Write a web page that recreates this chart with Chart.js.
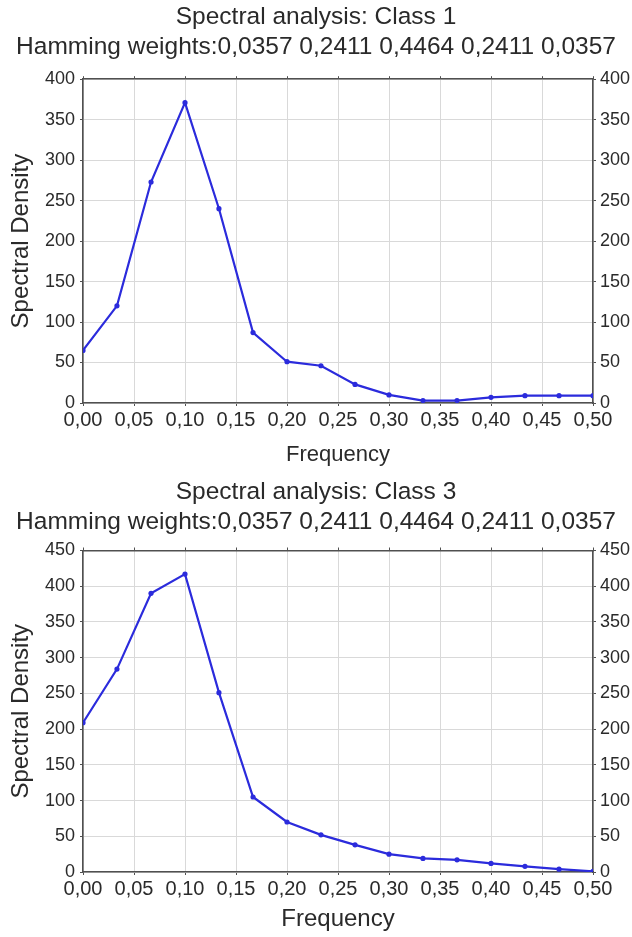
<!DOCTYPE html>
<html>
<head>
<meta charset="utf-8">
<script src="https://cdn.jsdelivr.net/npm/chart.js@4.4.1/dist/chart.umd.min.js"></script>
<style>
  html, body { margin: 0; padding: 0; background: #ffffff; }
  .wrap { position: relative; width: 632px; }
  canvas { display: block; }
</style>
</head>
<body>
<div class="wrap"><canvas id="c1" width="632" height="470"></canvas></div>
<div class="wrap"><canvas id="c2" width="632" height="467"></canvas></div>
<script>
// ---- data ----
const frequencies = [0.0000, 0.0333, 0.0667, 0.1000, 0.1333, 0.1667, 0.2000, 0.2333,
                     0.2667, 0.3000, 0.3333, 0.3667, 0.4000, 0.4333, 0.4667, 0.5000];
const densityClass1 = [65, 120, 273, 371, 240, 87, 51, 46, 23, 10, 3, 3, 7, 9, 9, 9];
const densityClass3 = [209, 284, 390, 417, 251, 105, 70, 52, 38, 25, 19, 17, 12, 8, 4, 1];
const xTickLabels = ['0,00','0,05','0,10','0,15','0,20','0,25','0,30','0,35','0,40','0,45','0,50'];
const yTicksClass1 = ['0','50','100','150','200','250','300','350','400'];
const yTicksClass3 = ['0','50','100','150','200','250','300','350','400','450'];
const titleClass1 = 'Spectral analysis: Class 1';
const titleClass3 = 'Spectral analysis: Class 3';
const subtitleText = 'Hamming weights:0,0357 0,2411 0,4464 0,2411 0,0357';
const xTitle = 'Frequency';
const yTitle = 'Spectral Density';

const FONT = "'Liberation Sans', Arial, sans-serif";
const TEXT = '#2a2a2a';
const LINE = '#2b2bdc';
const GRID = '#d9d9d9';
const AXIS = '#505050';

function makeChart(id, title, values, yLabels, opts) {
  const yMax = (yLabels.length - 1) * 50;
  const pts = frequencies.map((f, i) => ({x: f, y: values[i]}));
  const yTickCb = (v) => {
    const idx = Math.round(v / 50);
    return (Math.abs(v - idx * 50) < 1e-6) ? yLabels[idx] : '';
  };
  return new Chart(document.getElementById(id), {
    type: 'line',
    data: {
      datasets: [{
        data: pts,
        borderColor: LINE,
        backgroundColor: LINE,
        borderWidth: 2.2,
        pointRadius: 2.6,
        pointBorderWidth: 0,
        pointBackgroundColor: LINE,
        tension: 0,
        fill: false,
        xAxisID: 'x',
        yAxisID: 'y'
      }]
    },
    options: {
      responsive: false,
      animation: false,
      events: [],
      layout: { padding: { left: 0, right: 0, top: 0, bottom: 0 } },
      plugins: {
        legend: { display: false },
        tooltip: { enabled: false },
        title: {
          display: true, text: title, color: TEXT,
          font: { family: FONT, size: 24.5, weight: 'normal' },
          padding: { top: opts.titleTop, bottom: 0.6 }
        },
        subtitle: {
          display: true, text: subtitleText, color: TEXT,
          font: { family: FONT, size: 24.5, weight: 'normal' },
          padding: { top: 0, bottom: opts.subBottom }
        }
      },
      scales: {
        x: {
          type: 'linear', position: 'bottom', min: 0, max: 0.5,
          afterBuildTicks: (s) => { s.ticks = xTickLabels.map((t, i) => ({ value: i * 0.05 })); },
          ticks: {
            color: TEXT, padding: 2, maxRotation: 0, autoSkip: false,
            font: { family: FONT, size: 20 },
            callback: (v, i) => xTickLabels[i]
          },
          grid: { color: GRID, lineWidth: 1, tickLength: 3, tickColor: AXIS },
          border: { color: AXIS, width: 1.6 },
          title: {
            display: true, text: xTitle, color: TEXT,
            font: { family: FONT, size: opts.xTitleSize },
            padding: { top: 0, bottom: opts.xTitleBottom }
          },
          afterFit: (s) => { s.height = opts.xHeight; }
        },
        xTop: {
          type: 'linear', position: 'top', min: 0, max: 0.5,
          afterBuildTicks: (s) => { s.ticks = xTickLabels.map((t, i) => ({ value: i * 0.05 })); },
          ticks: { display: false },
          grid: { drawOnChartArea: false, tickLength: 3, tickColor: AXIS },
          border: { color: AXIS, width: 1.6 },
          afterFit: (s) => { s.height = 0; }
        },
        y: {
          type: 'linear', position: 'left', min: 0, max: yMax,
          ticks: {
            stepSize: 50, color: TEXT, padding: 5,
            font: { family: FONT, size: 18 },
            callback: yTickCb
          },
          grid: { color: GRID, lineWidth: 1, tickLength: 3, tickColor: AXIS },
          border: { color: AXIS, width: 1.6 },
          title: {
            display: true, text: yTitle, color: TEXT,
            font: { family: FONT, size: 24 },
            padding: { top: 7, bottom: 0 }
          },
          afterFit: (s) => { s.width = 83; }
        },
        yRight: {
          type: 'linear', position: 'right', min: 0, max: yMax,
          ticks: {
            stepSize: 50, color: TEXT, padding: 4,
            font: { family: FONT, size: 18 },
            callback: yTickCb
          },
          grid: { drawOnChartArea: false, tickLength: 3, tickColor: AXIS },
          border: { color: AXIS, width: 1.6 },
          afterFit: (s) => { s.width = 39; }
        }
      }
    }
  });
}

makeChart('c1', titleClass1, densityClass1, yTicksClass1,
  { titleTop: 2.3, subBottom: 17.5, xHeight: 67, xTitleSize: 22, xTitleBottom: 2 });
makeChart('c2', titleClass3, densityClass3, yTicksClass3,
  { titleTop: 7.3, subBottom: 13.8, xHeight: 65, xTitleSize: 24, xTitleBottom: 3 });
</script>
</body>
</html>
